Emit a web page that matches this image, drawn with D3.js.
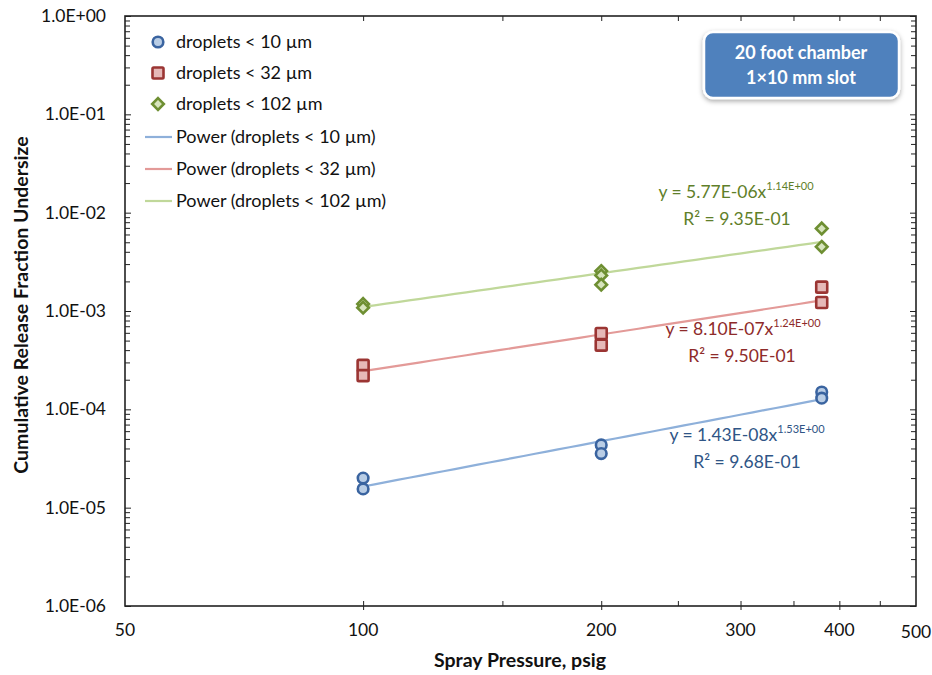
<!DOCTYPE html>
<html>
<head>
<meta charset="utf-8">
<script src="https://cdn.jsdelivr.net/npm/d3@7"></script>
<style>
  html, body { margin: 0; padding: 0; background: #fff; }
  svg { display: block; font-family: Lato, "Open Sans", sans-serif; }
</style>
</head>
<body>
<svg id="chart" width="932" height="675"></svg>
<script>
// ---------- data ----------
const seriesNames = ["droplets < 10 µm", "droplets < 32 µm", "droplets < 102 µm"];
const pressures10  = [100, 100, 200, 200, 380, 380];
const values10     = [2.0e-5, 1.55e-5, 4.35e-5, 3.55e-5, 1.50e-4, 1.30e-4];
const pressures32  = [100, 100, 200, 200, 380, 380];
const values32     = [2.8e-4, 2.2e-4, 5.9e-4, 4.5e-4, 1.75e-3, 1.22e-3];
const pressures102 = [100, 100, 200, 200, 200, 380, 380];
const values102    = [1.18e-3, 1.08e-3, 2.55e-3, 2.3e-3, 1.85e-3, 6.9e-3, 4.5e-3];
// power trendlines y = a * x^b
const trendA = [1.43e-8, 8.10e-7, 5.77e-6];
const trendB = [1.53, 1.24, 1.14];
const trendRange = [100, 380];
const eqCoef = ["1.43E-08", "8.10E-07", "5.77E-06"];
const eqExp  = ["1.53E+00", "1.24E+00", "1.14E+00"];
const eqR2   = ["9.68E-01", "9.50E-01", "9.35E-01"];
const xTickLabels = [50, 100, 200, 300, 400, 500];
const xMinorTicks = [150, 250, 350, 450];
const yTickValues = [1e-6, 1e-5, 1e-4, 1e-3, 1e-2, 1e-1, 1];

// ---------- layout ----------
const svg = d3.select("#chart");
const L = 125, R = 916, T = 16, B = 606;
const x = d3.scaleLog().domain([50, 500]).range([L, R]);
const y = d3.scaleLog().domain([1e-6, 1]).range([B, T]);

const markerStroke = ["#3A64A0", "#9B3533", "#6E8F32"];
const markerFill   = ["#B9CDE5", "#E6B9B8", "#D7E4BD"];
const lineColor    = ["#8EB0DA", "#E39A98", "#C0D89A"];
const eqColor      = ["#2F5586", "#8E2B2A", "#5F7F2A"];

const defs = svg.append("defs");
const f = defs.append("filter").attr("id", "shadow").attr("x", "-20%").attr("y", "-20%").attr("width", "140%").attr("height", "150%");
f.append("feDropShadow").attr("dx", 0).attr("dy", 2).attr("stdDeviation", 2.5).attr("flood-color", "#000").attr("flood-opacity", 0.35);

// ---------- axes ----------
const axisColor = "#222";
const yMinor = [];
for (let e = -6; e < 0; e++) for (let m = 2; m <= 9; m++) yMinor.push(m * Math.pow(10, e));

const axL = d3.axisLeft(y).tickValues(yTickValues).tickSize(-6).tickFormat(() => "");
const axLm = d3.axisLeft(y).tickValues(yMinor).tickSize(-5).tickFormat(() => "");
const axR = d3.axisRight(y).tickValues(yTickValues).tickSize(-6).tickFormat(() => "");
const axRm = d3.axisRight(y).tickValues(yMinor).tickSize(-5).tickFormat(() => "");
svg.append("g").attr("transform", `translate(${L},0)`).call(axLm);
svg.append("g").attr("transform", `translate(${L},0)`).call(axL);
svg.append("g").attr("transform", `translate(${R},0)`).call(axRm);
svg.append("g").attr("transform", `translate(${R},0)`).call(axR);

const xMajor = [100, 200, 300, 400];
const axB = d3.axisBottom(x).tickValues(xMajor).tickSize(4).tickFormat(() => "");
const axBin = d3.axisBottom(x).tickValues(xMajor.concat(xMinorTicks)).tickSize(-5).tickFormat(() => "");
const axT = d3.axisTop(x).tickValues(xMajor.concat(xMinorTicks)).tickSize(-5).tickFormat(() => "");
svg.append("g").attr("transform", `translate(0,${B})`).call(axBin);
svg.append("g").attr("transform", `translate(0,${B})`).call(axB);
svg.append("g").attr("transform", `translate(0,${T})`).call(axT);

svg.selectAll(".domain").remove();
svg.selectAll(".tick line").attr("stroke", axisColor).attr("stroke-width", 1);

svg.append("rect").attr("x", L).attr("y", T).attr("width", R - L).attr("height", B - T)
  .attr("fill", "none").attr("stroke", axisColor).attr("stroke-width", 1.6);

// tick labels
svg.append("g").selectAll("text").data(yTickValues).join("text")
  .attr("x", 106).attr("y", d => y(d)).attr("dy", "0.35em").attr("text-anchor", "end")
  .attr("font-size", 17.5).attr("fill", "#111")
  .text(d => d3.format(".1e")(d).toUpperCase().replace(/E([+-])(\d)$/, "E$10$2"));

svg.append("g").selectAll("text").data(xTickLabels).join("text")
  .attr("x", d => x(d)).attr("y", d => d === 500 ? 638 : 636).attr("text-anchor", "middle")
  .attr("font-size", 17.5).attr("fill", "#111").text(d => d);

// axis titles
svg.append("text").attr("x", 520).attr("y", 667).attr("text-anchor", "middle")
  .attr("font-size", 19.5).attr("font-weight", "bold").attr("fill", "#111").text("Spray Pressure, psig");
svg.append("text").attr("transform", "translate(28,305) rotate(-90)").attr("text-anchor", "middle")
  .attr("font-size", 19.5).attr("font-weight", "bold").attr("fill", "#111").text("Cumulative Release Fraction Undersize");

// ---------- trendlines ----------
const lineGen = d3.line().x(d => x(d[0])).y(d => y(d[1]));
trendA.forEach((a, i) => {
  const pts = d3.range(0, 41).map(k => {
    const xv = trendRange[0] * Math.pow(trendRange[1] / trendRange[0], k / 40);
    return [xv, a * Math.pow(xv, trendB[i])];
  });
  svg.append("path").datum(pts).attr("d", lineGen).attr("fill", "none")
    .attr("stroke", lineColor[i]).attr("stroke-width", 2.2);
});

// ---------- markers ----------
function drawMarker(g, type, cx, cy, i) {
  if (type === 0) {
    g.append("circle").attr("cx", cx).attr("cy", cy).attr("r", 5.3)
      .attr("fill", markerFill[i]).attr("stroke", markerStroke[i]).attr("stroke-width", 2.6);
  } else if (type === 1) {
    g.append("rect").attr("x", cx - 5.5).attr("y", cy - 5.5).attr("width", 11).attr("height", 11).attr("rx", 1.2)
      .attr("fill", markerFill[i]).attr("stroke", markerStroke[i]).attr("stroke-width", 2.6);
  } else {
    const s = 5.8;
    g.append("path").attr("d", `M${cx},${cy - s}L${cx + s},${cy}L${cx},${cy + s}L${cx - s},${cy}Z`)
      .attr("fill", markerFill[i]).attr("stroke", markerStroke[i]).attr("stroke-width", 2.6);
  }
}
const allX = [pressures10, pressures32, pressures102];
const allY = [values10, values32, values102];
const mg = svg.append("g");
allX.forEach((xs, i) => {
  xs.forEach((xv, k) => drawMarker(mg, i, x(xv), y(allY[i][k]), i));
});

// ---------- equations ----------
const eqPos = [[747, 441], [743, 335], [736, 198]];
const r2X = [747, 742, 737];
eqCoef.forEach((c, i) => {
  const [cx, cy] = eqPos[i];
  const t = svg.append("text").attr("x", cx).attr("y", cy).attr("text-anchor", "middle")
    .attr("font-size", 17.5).attr("fill", eqColor[i]);
  t.append("tspan").text(`y = ${c}x`);
  t.append("tspan").attr("font-size", 11).attr("dy", -8).text(eqExp[i]);
  svg.append("text").attr("x", r2X[i]).attr("y", cy + 27).attr("text-anchor", "middle")
    .attr("font-size", 17.5).attr("fill", eqColor[i]).text(`R² = ${eqR2[i]}`);
});

// ---------- legend ----------
const lg = svg.append("g");
const legRows = [42, 73, 104, 137, 169, 201];
seriesNames.forEach((n, i) => {
  drawMarker(lg, i, 158, legRows[i], i);
  lg.append("text").attr("x", 176).attr("y", legRows[i]).attr("dy", "0.35em")
    .attr("font-size", 18).attr("fill", "#111").text(n);
});
seriesNames.forEach((n, i) => {
  const yy = legRows[i + 3];
  lg.append("line").attr("x1", 145).attr("x2", 172).attr("y1", yy).attr("y2", yy)
    .attr("stroke", lineColor[i]).attr("stroke-width", 2.2);
  lg.append("text").attr("x", 176).attr("y", yy).attr("dy", "0.35em")
    .attr("font-size", 18).attr("fill", "#111").text(`Power (${n})`);
});

// ---------- annotation box ----------
const box = svg.append("g");
box.append("rect").attr("x", 704).attr("y", 32).attr("width", 195).attr("height", 66).attr("rx", 9)
  .attr("fill", "#4F81BD").attr("stroke", "#fff").attr("stroke-width", 2.5).attr("filter", "url(#shadow)");
box.append("text").attr("x", 801).attr("y", 59).attr("text-anchor", "middle")
  .attr("font-size", 18).attr("font-weight", "bold").attr("fill", "#fff").text("20 foot chamber");
box.append("text").attr("x", 801).attr("y", 84).attr("text-anchor", "middle")
  .attr("font-size", 18).attr("font-weight", "bold").attr("fill", "#fff").text("1×10 mm slot");
</script>
</body>
</html>
